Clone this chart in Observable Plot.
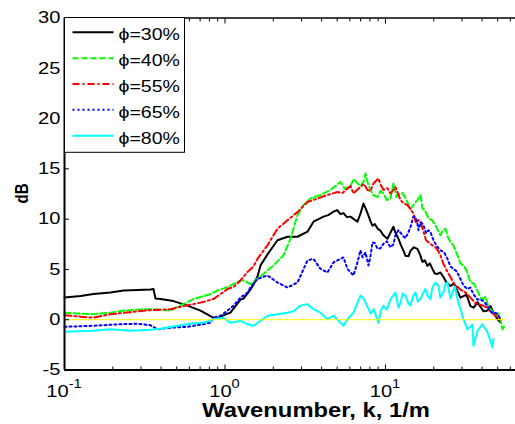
<!DOCTYPE html>
<html><head><meta charset="utf-8">
<script src="https://cdn.jsdelivr.net/npm/d3@7"></script>
<script src="https://cdn.jsdelivr.net/npm/@observablehq/plot@0.6"></script>
<style>
html,body{margin:0;padding:0;background:#fff;}
#chart{position:relative;width:515px;height:424px;overflow:hidden;}
</style></head><body><div id="chart"></div>
<script>
// Wavenumber k (1/m) and level (dB) pairs
const byK = (a, b) => a[0] - b[0];
const phi30 = [[0.1,2.2],[0.1258,2.35],[0.1516,2.55],[0.1935,2.7],[0.2332,2.9],[0.285,2.95],[0.3434,3.0],[0.3585,3.05],[0.369,2.1],[0.3964,2.05],[0.4777,1.85],[0.5839,1.4],[0.7036,0.9],[0.8122,0.35],[0.8479,0.2],[0.898,0.15],[0.9375,0.3],[1.0365,0.6],[1.0821,0.7],[1.1297,1.1],[1.249,2.0],[1.304,2.1],[1.4417,3.0],[1.5051,3.5],[1.5939,4.3],[1.6642,5.4],[1.84,6.5],[2.1239,7.9],[2.4514,8.25],[2.8295,8.25],[3.266,8.75],[3.5595,9.75],[4.1087,10.25],[4.7422,10.75],[5.2437,10.5],[5.4739,10.6],[6.052,10.25],[6.6911,9.75],[7.2927,11.55],[7.8355,10.35],[8.2977,9.35],[9.3074,8.85],[10.29,8.05],[11.216,9.25],[12.05,8.05],[13.324,6.35],[14.315,6.85],[15.827,7.05],[17.004,5.75],[18.27,5.35],[19.628,5.05],[21.084,4.55],[22.979,4.25],[25.405,3.35],[28.09,2.85],[30.614,2.35],[33.846,1.35],[37.419,1.75],[40.783,0.85],[45.092,1.35],[49.858,0.05],[52.05,-0.25],
  [4.4,10.4],[5.0,10.9],[5.75,10.2],[6.35,10.0],[7.0,10.6],[7.55,11.0],[8.06,9.8],[8.6,9.5],[9.0,9.0],[9.7,8.4],[10.7,8.6],[11.5,8.7],[12.5,7.4],[13.0,6.8],[13.9,6.3],[15.0,7.2],[16.4,6.5],[17.6,5.9],[18.9,5.6],[20.3,4.6],[22.0,4.7],[24.0,3.7],[26.7,3.6],[29.3,2.2],[32.0,2.5],[35.5,1.2],[39.0,1.3],[43.0,0.9],[47.5,0.6]].sort(byK);
const phi40 = [[0.1,0.7],[0.1258,0.6],[0.1516,0.55],[0.1935,0.7],[0.2332,0.9],[0.285,1.0],[0.3434,1.05],[0.3964,1.0],[0.4576,0.9],[0.5281,1.4],[0.6364,2.05],[0.8122,2.55],[0.898,2.9],[1.0365,3.25],[1.1297,3.55],[1.249,3.9],[1.304,3.9],[1.4417,3.55],[1.7374,4.55],[2.0055,5.4],[2.3147,6.4],[2.5592,8.05],[2.8295,10.4],[3.0839,11.4],[3.4097,12.05],[3.9354,12.4],[4.5426,12.9],[5.2437,13.7],[6.052,13.3],[6.6911,13.55],[7.2927,13.7],[7.505,14.55],[8.063,12.9],[8.9155,12.2],[9.7163,12.55],[10.744,12.05],[11.216,13.55],[12.05,12.4],[13.711,11.7],[14.944,11.4],[16.523,12.4],[17.004,11.05],[18.533,10.05],[20.487,9.4],[22.012,8.4],[23.648,9.05],[25.405,7.75],[28.09,6.4],[30.614,5.4],[33.846,3.7],[37.419,2.9],[40.783,2.05],[43.816,1.25],[48.448,0.4],[52.05,0.05],[53.57,-0.95],[55.93,-0.45],
  [5.6,13.0],[6.35,14.0],[7.0,13.3],[7.75,13.6],[8.4,12.4],[9.3,12.8],[10.2,11.9],[11.7,12.2],[12.8,12.6],[14.3,11.0],[15.8,11.9],[17.6,10.9],[19.5,9.9],[21.2,8.9],[22.8,8.9],[24.5,8.2],[26.5,7.4],[29.3,5.6],[32.0,4.9],[35.5,3.6],[39.0,2.2],[42.0,2.3],[46.0,0.9],[50.5,0.6]].sort(byK);
const phi55 = [[0.1,0.45],[0.1258,0.3],[0.1516,0.2],[0.1935,0.55],[0.2578,0.75],[0.3106,0.9],[0.4576,1.05],[0.5514,1.35],[0.7036,1.7],[0.8479,2.05],[1.0365,3.05],[1.1297,3.25],[1.249,3.9],[1.381,4.75],[1.5051,5.3],[1.5939,6.05],[1.84,7.4],[2.1239,9.05],[2.4514,9.9],[2.8295,10.7],[3.266,11.7],[3.7698,12.05],[4.3514,12.4],[5.0224,12.7],[5.7973,13.05],[6.3185,12.55],[6.9857,13.2],[7.7235,12.9],[8.418,13.55],[9.044,14.05],[9.7163,12.9],[10.744,12.55],[11.543,13.2],[12.401,11.9],[13.711,11.4],[14.944,10.55],[16.055,9.9],[17.25,8.75],[18.533,7.7],[20.487,7.2],[22.012,6.4],[22.979,5.55],[24.336,4.75],[25.405,4.25],[29.324,3.0],[33.846,2.2],[39.066,1.5],[45.092,0.8],[52.05,0.0],
  [5.4,12.6],[6.05,13.3],[6.65,12.9],[7.35,13.5],[8.06,12.8],[9.35,13.4],[10.25,13.1],[11.2,12.9],[12.9,11.6],[14.3,11.0],[15.5,9.6],[16.6,9.6],[17.9,7.9],[19.6,7.4],[21.2,6.9],[23.6,5.2],[27.0,3.5],[31.5,2.7],[36.5,1.6],[42.0,1.3],[48.5,0.4]].sort(byK);
const phi65 = [[0.1,-0.7],[0.1258,-0.65],[0.1516,-0.6],[0.2233,-0.45],[0.285,-0.4],[0.3434,-0.55],[0.3797,-0.95],[0.4576,-0.8],[0.5839,-0.7],[0.7346,-0.45],[0.8122,-0.3],[0.8479,0.2],[0.9375,0.4],[1.0365,0.9],[1.1297,1.4],[1.249,2.2],[1.381,2.7],[1.4417,3.2],[1.5939,4.05],[1.84,4.4],[2.1239,3.7],[2.4514,3.2],[2.8295,3.7],[3.266,5.9],[3.5595,6.05],[3.9354,5.05],[4.3514,4.7],[4.7422,5.7],[5.4739,6.2],[5.7973,5.05],[6.3185,4.4],[6.6911,5.7],[6.9857,6.9],[7.505,6.7],[7.8355,5.4],[8.2977,7.7],[8.9155,7.05],[9.7163,7.55],[10.744,7.2],[11.543,8.4],[12.762,8.4],[13.91,8.7],[14.944,10.25],[15.379,10.2],[16.055,8.9],[17.25,9.4],[18.533,8.9],[19.911,7.9],[22.012,6.9],[24.336,6.05],[26.523,5.05],[29.324,4.05],[32.422,3.05],[35.336,2.55],[39.066,2.05],[43.193,1.4],[47.078,0.7],[52.05,0.05],
  [7.2,6.2],[8.06,6.3],[8.6,7.6],[9.3,7.1],[10.2,7.8],[11.2,7.5],[12.05,8.9],[13.3,8.1],[14.3,9.2],[15.8,9.6],[16.6,9.7],[17.9,8.6],[19.2,8.6],[20.9,7.3],[23.2,6.7],[25.4,5.3],[27.8,4.8],[30.6,3.4],[33.8,3.2],[37.4,2.0],[41.0,1.8],[45.1,0.8],[49.8,0.6]].sort(byK);
const phi80 = [[0.1,-1.2],[0.1516,-1.1],[0.1935,-0.95],[0.2578,-1.1],[0.3434,-1.0],[0.3964,-0.9],[0.5059,-0.6],[0.6364,-0.35],[0.7346,-0.3],[0.8479,0.05],[0.9787,0.2],[1.0821,-0.3],[1.249,-0.1],[1.381,-0.45],[1.5051,-0.6],[1.6642,-0.1],[1.84,0.4],[2.1239,0.55],[2.4514,0.7],[2.6717,0.85],[2.9539,1.4],[3.266,1.55],[3.5595,1.05],[3.9354,0.7],[4.3514,0.05],[4.7422,0.4],[5.2437,-0.3],[5.4739,-0.6],[5.7973,0.05],[6.3185,0.7],[6.5024,1.2],[6.9857,2.4],[7.7235,1.3],[8.418,1.05],[9.044,-0.3],[9.7163,1.4],[10.744,2.05],[11.543,2.7],[12.401,1.7],[13.324,2.4],[14.315,1.4],[15.379,2.7],[16.523,2.05],[17.753,3.05],[19.072,2.05],[20.487,3.7],[21.389,3.4],[22.979,2.7],[24.336,3.7],[26.145,2.7],[28.09,2.05],[29.324,1.05],[30.614,0.05],[32.422,-0.95],[34.832,-0.5],[35.336,-2.6],[37.419,-1.1],[40.203,-0.45],[43.193,-1.25],[46.405,-2.75],[47.078,-1.9],
  [6.7,1.7],[7.3,2.1],[8.1,0.6],[9.35,0.9],[10.2,1.0],[11.2,2.4],[12.05,1.2],[12.8,2.6],[13.9,1.6],[14.9,2.4],[15.9,1.8],[17.0,2.5],[18.3,2.4],[19.6,3.2],[22.0,2.2],[23.6,3.5],[25.4,2.1],[27.1,3.3]].sort(byK);
const zeroLine = [[0.1,0],[55,0]];

const seriesNames = ["\u03D5=30%","\u03D5=40%","\u03D5=55%","\u03D5=65%","\u03D5=80%"];
const seriesData = [phi30, phi40, phi55, phi65, phi80];
const seriesColors = ["#000000","#00ff00","#ff0000","#0000ff","#00ffff"];
const seriesDash = [null,"6,3","7,3,2,3","2,3",null];

const yTicks = [-5,0,5,10,15,20,25,30];
const xMajor = [0.1,1,10];
const xMinor = [0.2,0.3,0.4,0.5,0.6,0.7,0.8,0.9,2,3,4,5,6,7,8,9,20,30,40,50,60];
const xLabelExp = ["-1","0","1"];
const xTitle = "Wavenumber, k, 1/m";
const yTitle = "dB";

const FONT = "'Liberation Sans', Arial, sans-serif";
const S = 1.22; // horizontal stretch of the reference picture

const chart = Plot.plot({
  width: 515, height: 424,
  marginLeft: 64, marginRight: 0, marginTop: 17.5, marginBottom: 54.5,
  x: {type: "log", domain: [0.1, 64.6]},
  y: {domain: [-5, 30]},
  style: {fontFamily: FONT, fontSize: "16.5px", color: "#000", background: "#fff", overflow: "visible"},
  marks: [
    ...seriesData.map((d, i) => Plot.line(d, {x: p => p[0], y: p => p[1], stroke: seriesColors[i], strokeWidth: 2, strokeDasharray: seriesDash[i], strokeLinejoin: "round"})),
    Plot.line(zeroLine, {x: p => p[0], y: p => p[1], stroke: "#ffff00", strokeWidth: 1}),
    Plot.ruleY([30], {stroke: "#000", strokeWidth: 1.5}),
    Plot.axisX(xMinor, {anchor: "bottom", tickSize: -3, fill: "none", label: null, stroke: "#000"}),
    Plot.axisX(xMajor, {anchor: "bottom", tickSize: -5, fill: "none", label: null, stroke: "#000"}),
    Plot.axisX(xMinor, {anchor: "top", tickSize: -3, fill: "none", label: null, stroke: "#000"}),
    Plot.axisX(xMajor, {anchor: "top", tickSize: -5, fill: "none", label: null, stroke: "#000"}),
    Plot.axisY(yTicks, {anchor: "left", tickSize: -5, tickPadding: 9, label: null, tickFormat: d => String(d), stroke: "#000", fill: "#000"}),
    Plot.ruleX([0.1], {stroke: "#000", strokeWidth: 2}),
    Plot.ruleY([-5], {stroke: "#000", strokeWidth: 2})
  ]
});
document.getElementById("chart").appendChild(chart);

const svg = d3.select(chart);
const xs = chart.scale("x");
const ys = chart.scale("y");

// stretch y tick labels
svg.selectAll("g[aria-label='y-axis tick label'] text").each(function() {
  const t = this.getAttribute("transform") || "";
  this.setAttribute("transform", t + ` scale(${S},1)`);
});

// x tick labels with superscript exponent
const yBase = ys.apply(-5);
xMajor.forEach((v, i) => {
  const t = svg.append("text")
    .attr("transform", `translate(${xs.apply(v)},${yBase + 27.5}) scale(${S},1)`)
    .attr("text-anchor", "middle")
    .attr("font-family", FONT).attr("font-size", 16.5).attr("fill", "#000");
  t.append("tspan").text("10");
  t.append("tspan").attr("font-size", 12).attr("dy", -9).text(xLabelExp[i]);
});

// axis titles
svg.append("text")
  .attr("transform", `translate(316,417) scale(${S},1)`)
  .attr("text-anchor", "middle").attr("font-family", FONT)
  .attr("font-weight", "bold").attr("font-size", 19.5).attr("fill", "#000")
  .text(xTitle);
svg.append("text")
  .attr("transform", `translate(28,${(ys.apply(-5) + ys.apply(30)) / 2}) scale(${S},1) rotate(-90)`)
  .attr("text-anchor", "middle").attr("font-family", FONT)
  .attr("font-weight", "bold").attr("font-size", 15).attr("fill", "#000")
  .text(yTitle);

// legend box
const lg = svg.append("g");
lg.append("rect").attr("x", 64.5).attr("y", 17.5).attr("width", 120).attr("height", 134.8)
  .attr("fill", "#fff").attr("stroke", "#000").attr("stroke-width", 1);
seriesNames.forEach((name, i) => {
  const yy = 32.3 + i * 25.85;
  lg.append("line").attr("x1", 72.5).attr("x2", 113.5).attr("y1", yy).attr("y2", yy)
    .attr("stroke", seriesColors[i]).attr("stroke-width", 2)
    .attr("stroke-dasharray", seriesDash[i]);
  lg.append("text").attr("transform", `translate(118.5,${yy + 8}) scale(${S},1)`)
    .attr("text-anchor", "start")
    .attr("font-family", FONT).attr("font-size", 16).attr("fill", "#000").text(name);
});
</script></body></html>
